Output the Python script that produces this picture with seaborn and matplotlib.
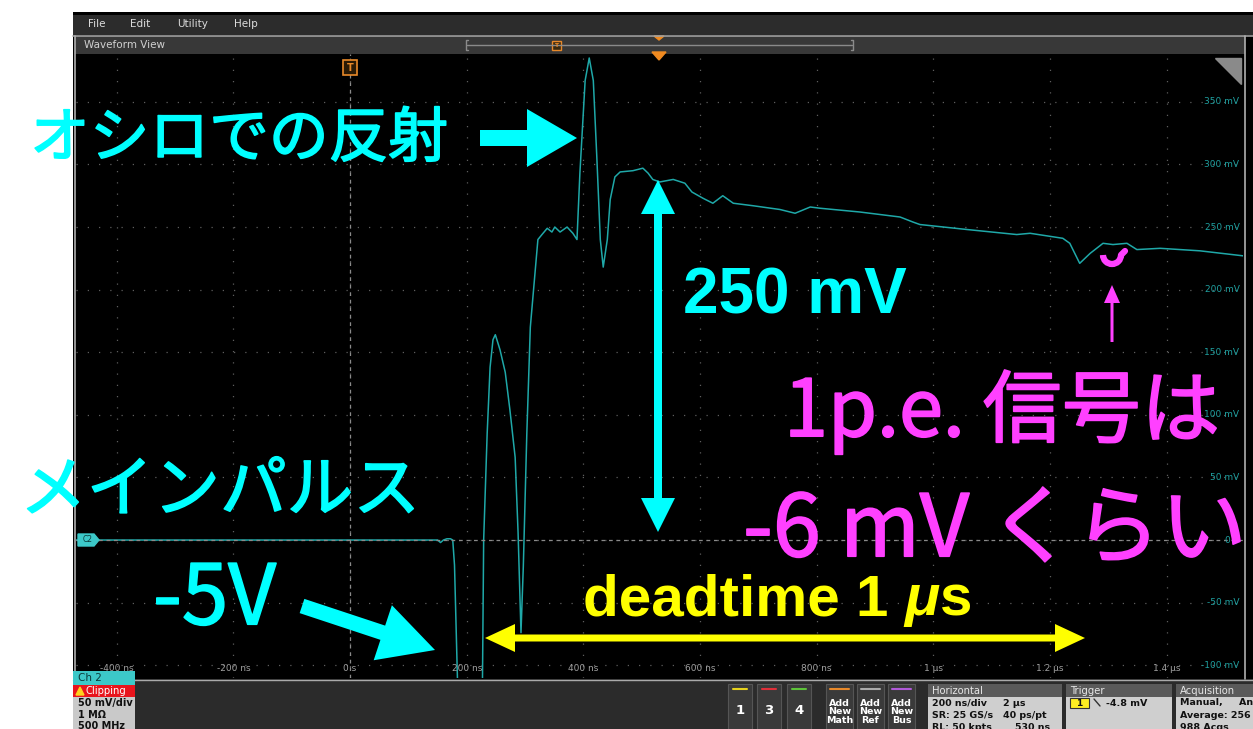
import matplotlib
matplotlib.use("Agg")
import numpy as np
import pandas as pd
import matplotlib.pyplot as plt
import matplotlib.patheffects as pe
import seaborn as sns
from matplotlib.patches import Rectangle, FancyArrow, Polygon, Arc
from matplotlib.transforms import blended_transform_factory

# Ch 2 trace (time in ns, voltage in mV)
time_ns = [-470, 150, 155, 160, 166, 172, 176, 179, 184, 187, 225, 227, 229, 235,
           240, 245, 249, 257, 266, 274, 283, 288, 293, 297, 303, 309, 322, 329,
           338, 346, 351, 360, 372, 382, 389, 394, 403, 410, 417, 423, 429, 434,
           441, 446, 454, 463, 485, 502, 511, 519, 531, 554, 574, 586, 605, 622,
           639, 657, 691, 737, 763, 789, 806, 874, 943, 965, 977, 1058, 1143, 1166,
           1222, 1234, 1251, 1269, 1291, 1308, 1332, 1349, 1389, 1457, 1531]
volt_mv = [0, 0, -2, 0, 1, 1, 0, -20, -110, -5000, -5000, -110, 0, 85,
           138, 160, 164, 152, 134, 104, 66, 6, -74, -21, 85, 170, 240, 244,
           249, 246, 250, 246, 250, 245, 240, 293, 367, 385, 367, 306, 240, 218,
           240, 272, 290, 294, 295, 297, 293, 288, 286, 288, 285, 278, 273, 269,
           275, 269, 267, 264, 261, 266, 265, 262, 258, 254, 252, 248, 244, 245,
           241, 237, 221, 229, 237, 236, 237, 232, 233, 231, 227]

x_ticks = [-400, -200, 0, 200, 400, 600, 800, 1000, 1200, 1400]
x_tick_labels = ["-400 ns", "-200 ns", "0 s", "200 ns", "400 ns", "600 ns",
                 "800 ns", "1 µs", "1.2 µs", "1.4 µs"]
y_ticks = [-100, -50, 0, 50, 100, 150, 200, 250, 300, 350]
y_tick_labels = ["-100 mV", "-50 mV", "0 V", "50 mV", "100 mV", "150 mV",
                 "200 mV", "250 mV", "300 mV", "350 mV"]

W, H = 1253, 729
cyan = "#00ffff"
magenta = "#ff40ff"
yellow = "#ffff00"
jp = ["Noto Sans CJK JP", "DejaVu Sans"]

sns.set_theme(style="dark")
plt.rcParams["font.family"] = ["DejaVu Sans"]

fig = plt.figure(figsize=(W / 100, H / 100), dpi=100)
fig.patch.set_facecolor("white")


def box(x0, y0, x1, y1):
    return [x0 / W, 1 - y1 / H, (x1 - x0) / W, (y1 - y0) / H]


# background: scope UI chrome
bg = fig.add_axes([0, 0, 1, 1], zorder=0)
bg.set_xlim(0, W)
bg.set_ylim(H, 0)
bg.axis("off")


def rect(ax, x0, y0, x1, y1, fc, ec="none", lw=0):
    ax.add_patch(Rectangle((x0, y0), x1 - x0, y1 - y0, fc=fc, ec=ec, lw=lw))


rect(bg, 73, 12, W, 729, "#000000")
rect(bg, 73, 15, W, 35, "#2c2c2c")
for lab, xx in [("File", 88), ("Edit", 130), ("Utility", 177), ("Help", 234)]:
    bg.text(xx, 24, lab, color="#dcdcdc", fontsize=7.5, va="center")
bg.plot([73, W], [35.5, 35.5], color="#a0a0a0", lw=1.2)
rect(bg, 75, 36, 1245, 54, "#383838")
bg.text(84, 45, "Waveform View", color="#d0d0d0", fontsize=7.5, va="center")
bg.plot([467, 852], [45, 45], color="#8a8a8a", lw=1)
bg.plot([468, 466, 466, 468], [40, 40, 50, 50], color="#8a8a8a", lw=1)
bg.plot([851, 853, 853, 851], [40, 40, 50, 50], color="#8a8a8a", lw=1)
rect(bg, 552, 41, 561, 50, "#3a2a10", ec="#e8892a", lw=1)
bg.text(556.5, 45.5, "T", color="#e8892a", fontsize=4.5, ha="center", va="center", weight="bold")
bg.add_patch(Polygon([[654, 36], [664, 36], [659, 40]], color="#f08a20"))
bg.plot([75, 75], [36, 679], color="#b0b0b0", lw=1.2)
bg.plot([1244.5, 1244.5], [36, 679], color="#b0b0b0", lw=1.2)

# bottom control strip
rect(bg, 73, 679, W, 729, "#2b2b2b")
bg.plot([73, W], [679.5, 679.5], color="#aaaaaa", lw=1)
for xx, col, lab in [(728, "#e6d21e", "1"), (757, "#e0303a", "3"), (787, "#5ec43a", "4")]:
    rect(bg, xx, 684, xx + 24, 729, "#3a3a3a", ec="#555555", lw=0.8)
    bg.plot([xx + 5, xx + 19], [689, 689], color=col, lw=1.5)
    bg.text(xx + 12, 711, lab, color="white", fontsize=9.5, weight="bold", ha="center", va="center")
for xx, col, lab in [(826, "#e8892a", "Add\nNew\nMath"), (857, "#aaaaaa", "Add\nNew\nRef"),
                     (888, "#b05ad8", "Add\nNew\nBus")]:
    rect(bg, xx, 684, xx + 27, 729, "#3a3a3a", ec="#555555", lw=0.8)
    bg.plot([xx + 4, xx + 23], [689, 689], color=col, lw=1.5)
    bg.text(xx + 13.5, 712, lab, color="white", fontsize=6.8, weight="bold", ha="center",
            va="center", linespacing=0.95)

panels = [
    (928, 1062, "Horizontal", [("200 ns/div", 932, 703), ("2 µs", 1003, 703),
                                ("SR: 25 GS/s", 932, 715), ("40 ps/pt", 1003, 715),
                                ("RL: 50 kpts", 932, 727), ("530 ns", 1015, 727)]),
    (1066, 1172, "Trigger", [("-4.8 mV", 1106, 703)]),
    (1176, W, "Acquisition", [("Manual,     An", 1180, 703), ("Average: 256", 1180, 715),
                              ("988 Acqs", 1180, 727)]),
]
for x0, x1, head, lines in panels:
    rect(bg, x0, 684, x1, 697, "#5a5a5a")
    bg.text(x0 + 4, 690.5, head, color="#e6e6e6", fontsize=7.2, va="center")
    rect(bg, x0, 697, x1, 729, "#cfcfcf")
    for txt, xx, yy in lines:
        bg.text(xx, yy, txt, color="#111111", fontsize=6.8, weight="bold", va="center")
rect(bg, 1070, 698, 1089, 708, "#ffee22", ec="#333333", lw=0.8)
bg.text(1079.5, 703, "1", color="#111111", fontsize=6.5, weight="bold", ha="center", va="center")
bg.plot([1094, 1100], [699, 706], color="#333333", lw=1)

# main waveform area
ax = fig.add_axes(box(76, 54, 1243, 678), zorder=1)
df = pd.DataFrame({"time": time_ns, "volt": volt_mv})
sns.lineplot(data=df, x="time", y="volt", ax=ax, color="#1fa8a8", linewidth=1.1,
             estimator=None, sort=False)
ax.set_facecolor("black")
ax.set_xlim(-470, 1531)
ax.set_ylim(-110.2, 388.2)
ax.set_xticks(x_ticks)
ax.set_yticks(y_ticks)
ax.tick_params(length=0, labelbottom=False, labelleft=False)
ax.set_xlabel("")
ax.set_ylabel("")
ax.grid(True, color="#5e5e5e", linestyle=(0, (1, 8)), linewidth=0.9)
ax.axhline(0, color="#8a8a8a", linestyle=(0, (3, 3)), linewidth=0.9)
ax.axvline(0, color="#8a8a8a", linestyle=(0, (3, 3)), linewidth=0.9)
for s in ax.spines.values():
    s.set_visible(False)
bx = blended_transform_factory(ax.transData, ax.transAxes)
for t, lab in zip(x_ticks, x_tick_labels):
    ax.text(t, 0.016, lab, transform=bx, color="#a0a0a0", fontsize=6.5, ha="center", va="center")
by = blended_transform_factory(ax.transAxes, ax.transData)
for v, lab in zip(y_ticks, y_tick_labels):
    ax.text(0.997, v, lab, transform=by, color="#1fa0a0", fontsize=6.5, ha="right", va="center")

# overlay: scope markers and slide annotations
ov = fig.add_axes([0, 0, 1, 1], zorder=2)
ov.set_xlim(0, W)
ov.set_ylim(H, 0)
ov.axis("off")

rect(ov, 73, 671, 135, 685, "#3cc8c8")
ov.text(78, 678, "Ch 2", color="#0a3a3a", fontsize=7.5, va="center")
rect(ov, 73, 685, 135, 697, "#e8141c")
ov.add_patch(Polygon([[76, 695], [84, 695], [80, 687]], color="#ffd21e"))
ov.text(86, 691, "Clipping", color="white", fontsize=7.2, va="center")
rect(ov, 73, 697, 135, 729, "#c9c9c9")
for txt, yy in [("50 mV/div", 703), ("1 MΩ", 715), ("500 MHz", 726)]:
    ov.text(78, yy, txt, color="#111111", fontsize=7, weight="bold", va="center")

ov.add_patch(Polygon([[78, 534], [94, 534], [99, 540], [94, 546], [78, 546]], color="#3cc8c8"))
ov.text(88, 540, "C2", color="#0a3a3a", fontsize=5.5, ha="center", va="center")
rect(ov, 343, 60, 357, 75, "#2a1a05", ec="#e8892a", lw=1.2)
ov.text(350, 67.5, "T", color="#e8892a", fontsize=7, weight="bold", ha="center", va="center")
ov.add_patch(Polygon([[652, 52], [666, 52], [659, 60]], color="#f08a20"))
ov.add_patch(Polygon([[1215, 58], [1241, 58], [1241, 84]], color="#8a8a8a"))


def jp_text(x, y, s, color, size):
    # regular weight thickened a little, closer to the rounded medium gothic of the slide
    ov.text(x, y, s, color=color, fontsize=size, family=jp, ha="left", va="center",
            path_effects=[pe.withStroke(linewidth=1.2, foreground=color)])


jp_text(30, 140, "オシロでの反射", cyan, 43)
ov.add_patch(FancyArrow(480, 138, 97, 0, width=16, head_width=58, head_length=50,
                        length_includes_head=True, color=cyan, lw=0))
ov.text(683, 296, "250 mV", color=cyan, fontsize=46, family=["Liberation Sans"], weight="bold",
        ha="left", va="center")
for y0, dy in [(356, -176), (356, 176)]:
    ov.add_patch(FancyArrow(658, y0, 0, dy, width=8, head_width=34, head_length=34,
                            length_includes_head=True, color=cyan, lw=0))
jp_text(20, 492, "メインパルス", cyan, 48)
jp_text(153, 600, "-5V", cyan, 60)
ov.add_patch(FancyArrow(302, 606, 133, 44, width=15, head_width=58, head_length=55,
                        length_includes_head=True, color=cyan, lw=0))

dt = ov.text(583, 600, "deadtime 1 ", color=yellow, fontsize=42, family=["Liberation Sans"],
             weight="bold", ha="left", va="center")
mu = ov.annotate("μ", xy=(1, 0), xycoords=dt, color=yellow, fontsize=42,
                 family=["Liberation Sans"], weight="bold", style="italic",
                 ha="left", va="bottom")
ov.annotate("s", xy=(1, 0), xycoords=mu, color=yellow, fontsize=42,
            family=["Liberation Sans"], weight="bold", ha="left", va="bottom")
for x0, dx in [(785, -300), (785, 300)]:
    ov.add_patch(FancyArrow(x0, 638, dx, 0, width=7, head_width=28, head_length=30,
                            length_includes_head=True, color=yellow, lw=0))

jp_text(784, 412, "1p.e. 信号は", magenta, 57)
jp_text(743, 532, "-6 mV くらい", magenta, 62)
ov.add_patch(FancyArrow(1112, 342, 0, -57, width=3, head_width=16, head_length=18,
                        length_includes_head=True, color=magenta, lw=0))
ov.add_patch(Arc((1112, 255), 18, 18, theta1=0, theta2=180, color=magenta, lw=4.5))
ov.plot([1121, 1125], [255, 251], color=magenta, lw=4.5, solid_capstyle="round")

fig.savefig("out.png", dpi=100, facecolor="white")
